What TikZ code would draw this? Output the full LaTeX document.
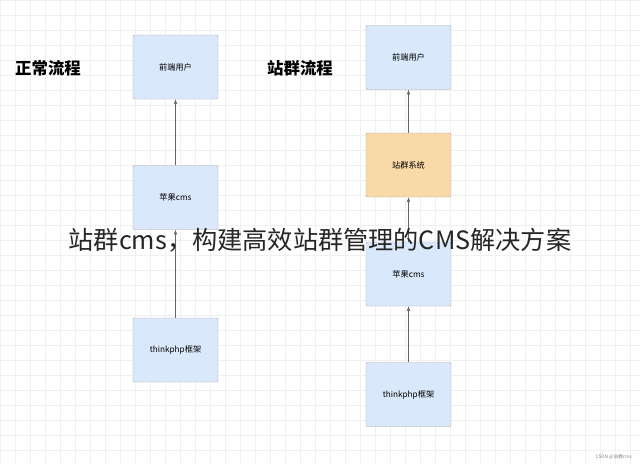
\documentclass[tikz,border=0pt]{standalone}
\usepackage{fontspec}
\setmainfont{Noto Sans CJK SC}
\usetikzlibrary{positioning,arrows.meta}
\definecolor{userblue}{HTML}{DAE8FC}
\definecolor{siteorange}{HTML}{FAD9A8}
\tikzset{
    box/.style={draw=gray!70, rounded corners=1pt, minimum width=85*0.03cm, minimum height=64*0.03cm, font=\fontsize{7}{8}\selectfont},
    userbox/.style={box, fill=userblue},
    sitebox/.style={box, fill=siteorange},
    flow/.style={-{Latex[length=4pt,width=3pt]}, gray!80!black, thin},
    title/.style={font=\fontsize{14}{17}\selectfont\bfseries}
}
\begin{document}
\begin{tikzpicture}[x=0.03cm, y=-0.03cm]
\useasboundingbox (0,0) rectangle (640,465);
% grid background
\draw[gray!12, step=0.45cm] (0,0) grid (640,465);

% titles
\node[title] (tnormal) at (48,68) {正常流程};
\node[title] (tsite) at (300,68) {站群流程};

% normal flow
\node[userbox] (front1) at (175.5,67) {前端用户};
\node[userbox] (apple1) at (175.5,197.5) {苹果cms};
\node[userbox] (think1) at (175.5,350) {thinkphp框架};
\draw[flow] (apple1) -- (front1);
\draw[flow] (think1) -- (apple1);

% site group flow
\node[userbox] (front2) at (408.5,57.5) {前端用户};
\node[sitebox] (site2) at (408.5,165) {站群系统};
\node[userbox] (apple2) at (408.5,274) {苹果cms};
\node[userbox] (think2) at (408.5,394.5) {thinkphp框架};
\draw[flow] (site2) -- (front2);
\draw[flow] (apple2) -- (site2);
\draw[flow] (think2) -- (apple2);

% overlay caption
\node[font=\fontsize{21.5}{24}\selectfont, text=black!85] (caption) at (320,240) {站群cms，构建高效站群管理的CMS解决方案};
\node[font=\fontsize{4}{5}\selectfont, text=gray, anchor=south east] (mark) at (636,463) {CSDN @站群cms};
\end{tikzpicture}
\end{document}
